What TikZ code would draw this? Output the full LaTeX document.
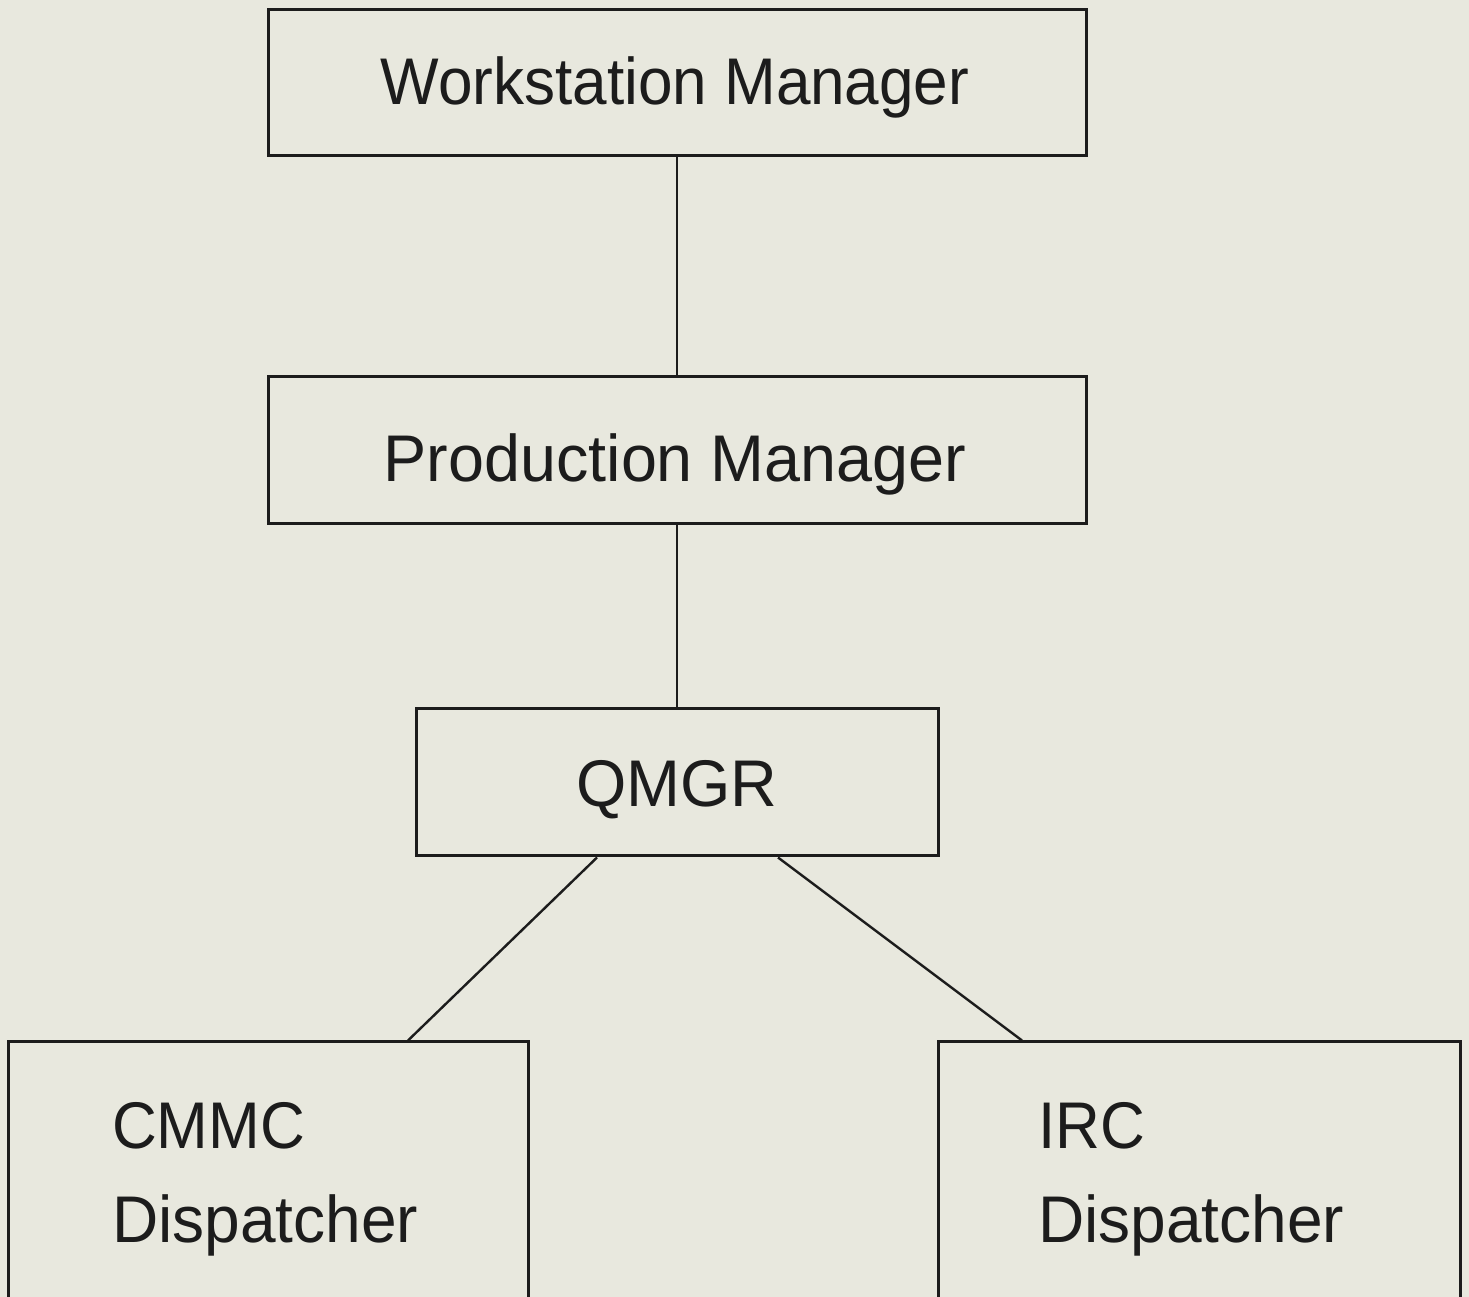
\documentclass[tikz,border=0pt]{standalone}
\usepackage{fontspec}
\setmainfont{Liberation Sans}
\usepackage{graphicx}
\definecolor{paper}{RGB}{232,232,222}
\definecolor{ink}{RGB}{28,28,28}
\newcommand\narrowtxt[1]{\scalebox{0.94}[1]{#1}}
\tikzset{
  box/.style={draw=ink, line width=3pt, rectangle, inner sep=0pt},
  link/.style={draw=ink, line width=2.4pt},
  lbl/.style={text=ink, inner sep=0pt, font=\fontsize{66}{94}\selectfont},
}
\begin{document}
\begin{tikzpicture}[x=1pt, y=1pt]
  % page and clipping frame
  \fill[paper] (0,0) rectangle (1469,1297);
  \useasboundingbox (0,0) rectangle (1469,1297);
  \clip (0,0) rectangle (1469,1297);

  % boxes
  \node[box, minimum width=818pt, minimum height=146pt] (wm)   at (677,1214)   {};
  \node[box, minimum width=818pt, minimum height=147pt] (pm)   at (677,846.5)  {};
  \node[box, minimum width=522pt, minimum height=147pt] (qmgr) at (677,514.5)  {};
  \node[box, minimum width=520pt, minimum height=305pt] (cmmc) at (268,102.5)  {};
  \node[box, minimum width=522pt, minimum height=305pt] (irc)  at (1199,102.5) {};

  % labels
  \node[lbl, anchor=base] (wmtxt)   at (675,1192) {\narrowtxt{Workstation Manager}};
  \node[lbl, anchor=base] (pmtxt)   at (675,815)  {\scalebox{0.98}[1]{Production Manager}};
  \node[lbl, anchor=base] (qmgrtxt) at (677,490)  {\scalebox{0.98}[1]{QMGR}};
  \node[lbl, anchor=north west, align=left] (cmmctxt) at (112,195)
    {\narrowtxt{CMMC}\\\scalebox{0.97}[1]{Dispatcher}};
  \node[lbl, anchor=north west, align=left] (irctxt) at (1038,195)
    {\narrowtxt{IRC}\\\scalebox{0.97}[1]{Dispatcher}};

  % connectors
  \draw[link] (wm.south) -- (pm.north);
  \draw[link] (pm.south) -- (qmgr.north);
  \draw[link] ([xshift=-80pt]qmgr.south) -- ([xshift=140pt]cmmc.north);
  \draw[link] ([xshift=101pt]qmgr.south) -- ([xshift=-177pt]irc.north);
\end{tikzpicture}
\end{document}
